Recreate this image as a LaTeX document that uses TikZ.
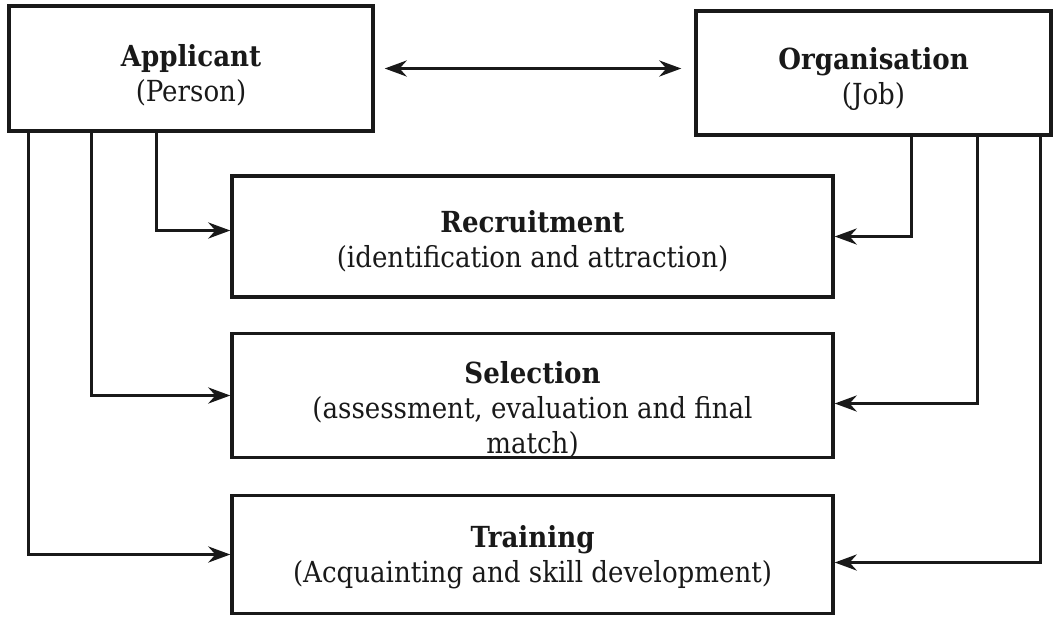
\documentclass[tikz,border=0pt]{standalone}
\usepackage{fontspec}
\setmainfont{DejaVu Serif Condensed}
\usetikzlibrary{arrows.meta}

\begin{document}
\begin{tikzpicture}[x=0.5pt,y=-0.5pt,
    every node/.style={font=\fontsize{14.5}{17.5}\selectfont, text=black!90},
    box/.style={draw=black!90, line width=1.7pt, align=center, inner sep=0pt},
    conn/.style={draw=black!90, line width=1.7pt, -{Stealth[length=11pt,width=8pt]}}]
    \useasboundingbox (0,0) rectangle (1054,616);
    \node[box, minimum width=182pt, minimum height=62.5pt] (app) at (191,68.5) {\rule{0pt}{18pt}\textbf{Applicant}\\(Person)};
    \node[box, minimum width=177.5pt, minimum height=62pt] (org) at (873.5,73) {\rule{0pt}{17pt}\textbf{Organisation}\\(Job)};
    \node[box, minimum width=300.5pt, minimum height=60.5pt] (rec) at (532.5,236.5) {\rule{0pt}{16pt}\textbf{Recruitment}\\(identification and attraction)};
    \node[box, minimum width=300.5pt, minimum height=60.5pt] (sel) at (532.5,395.5) {\rule{0pt}{25pt}\textbf{Selection}\\(assessment, evaluation and final\\match)};
    \node[box, minimum width=300.5pt, minimum height=59pt] (trn) at (532.5,554.5) {\rule{0pt}{14pt}\textbf{Training}\\(Acquainting and skill development)};
    \draw[conn, {Stealth[length=11pt,width=8pt]}-{Stealth[length=11pt,width=8pt]}] ([xshift=5pt]app.east) -- ([xshift=-6.5pt]app.east -| org.west);
    \draw[conn] ([xshift=74.5pt]app.south west) |- ([yshift=3pt]rec.west);
    \draw[conn] ([xshift=42pt]app.south west) |- (sel.west);
    \draw[conn] ([xshift=10.5pt]app.south west) |- (trn.west);
    \draw[conn] ([xshift=-70.5pt]org.south east) |- (rec.east);
    \draw[conn] ([xshift=-37.5pt]org.south east) |- ([yshift=-4pt]sel.east);
    \draw[conn] ([xshift=-6pt]org.south east) |- ([yshift=-4pt]trn.east);
\end{tikzpicture}
\end{document}
